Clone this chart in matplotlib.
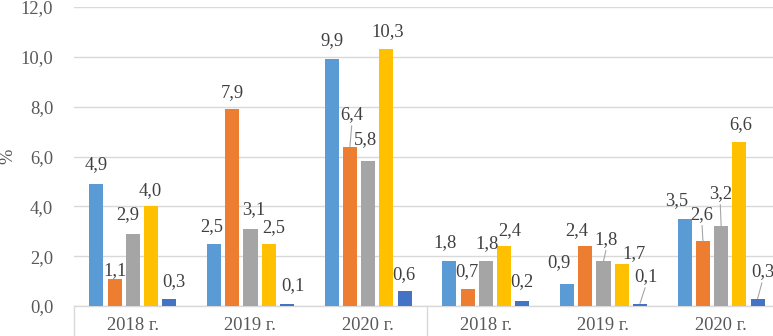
import matplotlib
matplotlib.use("Agg")
import matplotlib.pyplot as plt
import matplotlib.transforms as mtransforms
import numpy as np

# ---- data ----
categories = ["2018 г.", "2019 г.", "2020 г.", "2018 г.", "2019 г.", "2020 г."]
series1 = [4.9, 2.5, 9.9, 1.8, 0.9, 3.5]
series2 = [1.1, 7.9, 6.4, 0.7, 2.4, 2.6]
series3 = [2.9, 3.1, 5.8, 1.8, 1.8, 3.2]
series4 = [4.0, 2.5, 10.3, 2.4, 1.7, 6.6]
series5 = [0.3, 0.1, 0.6, 0.2, 0.1, 0.3]
yticks = [0, 2, 4, 6, 8, 10, 12]
ylabel = "%"

series = [series1, series2, series3, series4, series5]
colors = ["#5B9BD5", "#ED7D31", "#A5A5A5", "#FFC000", "#4472C4"]

# label offsets (pixels, dx right, dy up) per series per group, and leader flags
label_offsets = [
    [(0, 19), (-2, 17), (0, 19), (-4, 19), (-8, 21), (-8, 18)],
    [(0, 8), (0, 17), (2, 32), (-1, 17), (-9, 16), (-1, 27)],
    [(-5, 19), (3, 19), (-3, 22), (1, 18), (3, 22), (-1, 33)],
    [(-1, 16), (5, 16), (1, 18), (6, 16), (12, 10), (1, 17)],
    [(5, 17), (6, 18), (-1, 16), (0, 19), (6, 27), (5, 27)],
]
leaders = [
    [0, 0, 0, 0, 0, 0],
    [0, 0, 1, 0, 0, 1],
    [0, 0, 0, 0, 1, 1],
    [0, 0, 0, 0, 0, 0],
    [0, 0, 0, 0, 1, 1],
]

W, H, DPI = 773, 336, 100
fig = plt.figure(figsize=(W / DPI, H / DPI), dpi=DPI)
left_px, right_px, top_px, bottom_px = 74, 780, 7, 306
ax = fig.add_axes([left_px / W, 1 - bottom_px / H,
                   (right_px - left_px) / W, (bottom_px - top_px) / H])

font = "Liberation Serif"
fs = 13.3
tcol = "#404040"

n = len(categories)
x = np.arange(n)
pitch = 0.155
bw = 0.119
for i, (vals, c) in enumerate(zip(series, colors)):
    xs = x + (i - 2) * pitch
    ax.bar(xs, vals, width=bw, color=c, zorder=3)
    for g in range(n):
        dx, dy = label_offsets[i][g]
        txt = f"{vals[g]:.1f}".replace(".", ",")
        kw = {}
        if leaders[i][g]:
            kw["arrowprops"] = dict(arrowstyle="-", color="#A6A6A6", lw=0.8,
                                    shrinkA=0, shrinkB=0, relpos=(0.5, 0.0))
        ax.annotate(txt, xy=(xs[g], vals[g]), xytext=(dx, dy),
                    textcoords="offset pixels", ha="center", va="center",
                    fontsize=fs, family=font, color=tcol, zorder=5, **kw)

ax.set_xlim(-0.5, n - 0.5)
ax.set_ylim(0, 12)
ax.set_yticks(yticks)
ax.set_yticklabels([f"{v:.1f}".replace(".", ",") for v in yticks],
                   family=font, fontsize=fs, color="#595959")
ax.tick_params(axis="y", length=0, pad=15)
ax.set_xticks([])
ax.grid(axis="y", color="#D9D9D9", lw=1, zorder=0)
for s in ["top", "right", "left"]:
    ax.spines[s].set_visible(False)
ax.spines["bottom"].set_color("#D9D9D9")
ax.spines["bottom"].set_linewidth(1)

# category labels
for g, lab in enumerate(categories):
    ax.annotate(lab, xy=(g, 0), xytext=(0, -19), textcoords="offset pixels",
                ha="center", va="center", fontsize=fs, family=font,
                color="#595959", annotation_clip=False)

# separator lines of multi-level axis
trans = mtransforms.blended_transform_factory(ax.transData, ax.transAxes)
for xv in [-0.5, 2.5, n - 0.5]:
    ax.plot([xv, xv], [0, -0.2], transform=trans, color="#D9D9D9", lw=1,
            clip_on=False)

fig.text(8 / W, 1 - 156 / H, ylabel, rotation=90, ha="center", va="center",
         fontsize=fs, family=font, color="#595959")

fig.savefig("out.png", dpi=DPI)
